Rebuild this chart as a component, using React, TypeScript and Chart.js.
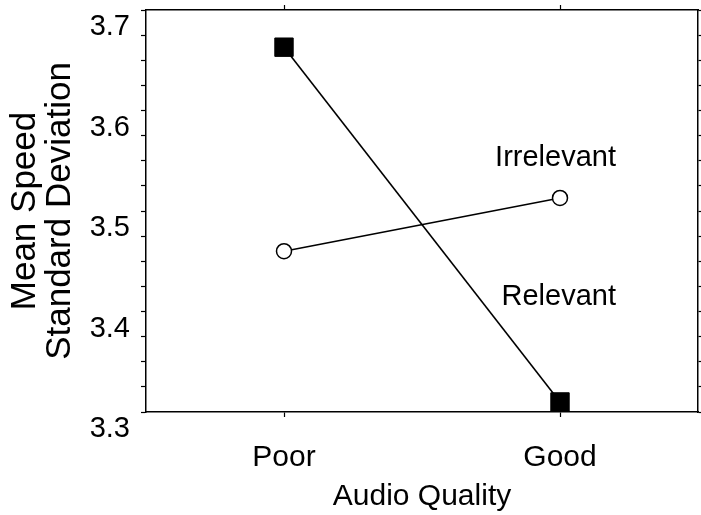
import React, { useEffect, useRef } from 'react';
import { Chart, registerables } from 'chart.js';

Chart.register(...registerables);

// ---- data ----
const categories = ['Poor', 'Good'];
const relevant = [3.663, 3.31];
const irrelevant = [3.46, 3.513];
const seriesNames = ['Irrelevant', 'Relevant'];
const seriesNameY = [3.553, 3.414];
const yMin = 3.3;
const yMax = 3.7;
const yTickLabels = ['3.3', '3.4', '3.5', '3.6', '3.7'];
const minorPerMajor = 4;

const FONT = '"Liberation Sans", Arial, Helvetica, sans-serif';

function buildYTicks() {
  const majors = yTickLabels.map(Number);
  const ticks: { value: number }[] = [];
  for (let i = 0; i < majors.length; i++) {
    ticks.push({ value: majors[i] });
    if (i < majors.length - 1) {
      const step = (majors[i + 1] - majors[i]) / minorPerMajor;
      for (let k = 1; k < minorPerMajor; k++) ticks.push({ value: majors[i] + k * step });
    }
  }
  return ticks;
}

const seriesLabelPlugin = {
  id: 'seriesLabels',
  afterDatasetsDraw(chart: any) {
    const { ctx } = chart;
    const x = chart.scales.x;
    const y = chart.scales.y;
    ctx.save();
    ctx.font = `29px ${FONT}`;
    ctx.fillStyle = '#000';
    ctx.textAlign = 'right';
    ctx.textBaseline = 'middle';
    seriesNames.forEach((name, i) => {
      ctx.fillText(name, x.getPixelForValue(categories.length - 1) + 56, y.getPixelForValue(seriesNameY[i]));
    });
    ctx.restore();
  },
};

const gridOpts = (len: number) => ({
  display: true,
  drawOnChartArea: false,
  drawTicks: true,
  tickLength: len,
  tickColor: '#000',
  tickWidth: 1.2,
});
const borderOpts = { display: true, color: '#000', width: 1.5 };

const fixSize = (w: number | null, h: number | null) => (s: any) => {
  if (w !== null) s.width = w;
  if (h !== null) s.height = h;
  s.paddingTop = 0;
  s.paddingBottom = 0;
  s.paddingLeft = 0;
  s.paddingRight = 0;
};

export default function App() {
  const ref = useRef<HTMLCanvasElement>(null);
  useEffect(() => {
    if (!ref.current) return;
    const chart = new Chart(ref.current, {
      type: 'line',
      data: {
        labels: categories,
        datasets: [
          {
            label: 'Relevant',
            data: relevant,
            borderColor: '#000',
            borderWidth: 1.6,
            pointStyle: 'rect',
            pointRadius: 13,
            pointBackgroundColor: '#000',
            pointBorderColor: '#000',
            pointBorderWidth: 1,
            clip: false as any,
          },
          {
            label: 'Irrelevant',
            data: irrelevant,
            borderColor: '#000',
            borderWidth: 1.6,
            pointStyle: 'circle',
            pointRadius: 7.5,
            pointBackgroundColor: '#fff',
            pointBorderColor: '#000',
            pointBorderWidth: 1.5,
            clip: false as any,
          },
        ],
      },
      options: {
        animation: false,
        responsive: false,
        layout: { padding: 0, autoPadding: false },
        plugins: { legend: { display: false }, tooltip: { enabled: false } },
        scales: {
          x: {
            type: 'category',
            position: 'bottom',
            offset: true,
            grid: gridOpts(5),
            border: borderOpts,
            ticks: { color: '#000', font: { family: FONT, size: 30 }, padding: 23, maxRotation: 0, autoSkip: false },
            title: {
              display: true,
              text: 'Audio Quality',
              color: '#000',
              font: { family: FONT, size: 30 },
              padding: { top: 0, bottom: 0 },
            },
            afterFit: fixSize(null, 103),
          },
          x2: {
            type: 'category',
            position: 'top',
            offset: true,
            grid: gridOpts(5),
            border: borderOpts,
            ticks: { display: false },
            afterFit: fixSize(null, 10),
          },
          y: {
            type: 'linear',
            position: 'left',
            min: yMin,
            max: yMax,
            afterBuildTicks: (s: any) => { s.ticks = buildYTicks(); },
            grid: gridOpts(5),
            border: borderOpts,
            ticks: {
              autoSkip: false,
              color: '#000',
              font: { family: FONT, size: 29 },
              padding: 11,
              labelOffset: 17,
              callback: (v: any) => {
                const s = yTickLabels.find((l) => Math.abs(Number(l) - Number(v)) < 1e-6);
                return s ?? '';
              },
            },
            title: {
              display: true,
              text: ['Mean Speed', 'Standard Deviation'],
              color: '#000',
              font: { family: FONT, size: 35, lineHeight: 35 / 35 },
              padding: { top: 7.5, bottom: 0 },
            },
            afterFit: fixSize(146, null),
          },
          y2: {
            type: 'linear',
            position: 'right',
            min: yMin,
            max: yMax,
            afterBuildTicks: (s: any) => { s.ticks = buildYTicks(); },
            grid: gridOpts(3),
            border: borderOpts,
            ticks: { display: false, autoSkip: false },
            afterFit: fixSize(3, null),
          },
        },
      } as any,
      plugins: [seriesLabelPlugin],
    });
    return () => chart.destroy();
  }, []);
  return (
    <div style={{ position: 'absolute', left: 0, top: 0, width: 701, height: 515, background: '#fff' }}>
      <canvas ref={ref} width={701} height={515} />
    </div>
  );
}
